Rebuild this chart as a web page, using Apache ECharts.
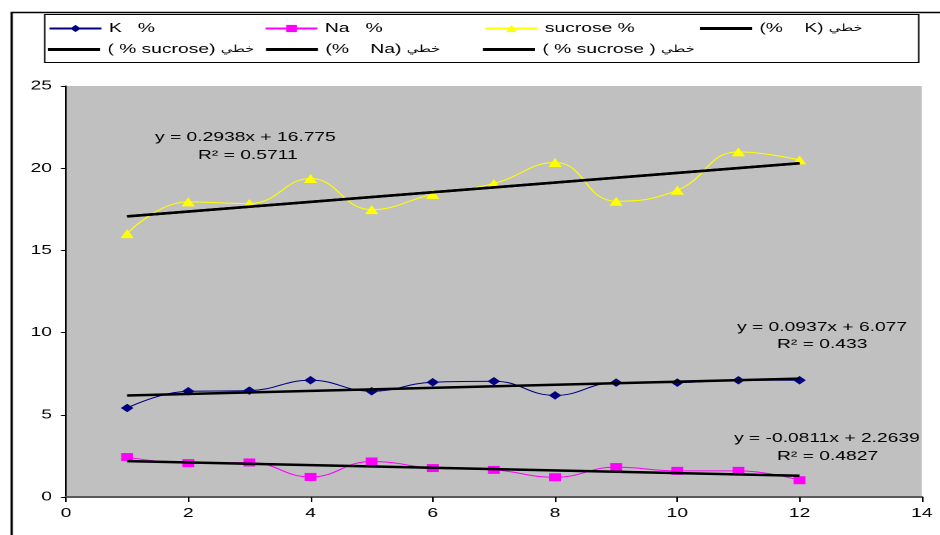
<!DOCTYPE html>
<html>
<head>
<meta charset="utf-8">
<script src="https://cdn.jsdelivr.net/npm/echarts@6/dist/echarts.min.js"></script>
<style>
  html, body { margin: 0; padding: 0; background: #fff; overflow: hidden; }
  #wrap { width: 940px; height: 535px; overflow: hidden; position: relative; }
  /* the chart is laid out narrow and widened horizontally */
  #chart { height: 535px; transform-origin: 0 0; position: absolute; left: 0; top: 0; }
</style>
</head>
<body>
<div id="wrap"><div id="chart"></div></div>
<script>
// Sample index (x) and measured percentages
const samples = [1, 2, 3, 4, 5, 6, 7, 8, 9, 10, 11, 12];
const kValues = [5.41, 6.43, 6.47, 7.10, 6.43, 6.98, 7.04, 6.18, 6.96, 6.96, 7.10, 7.10];
const naValues = [2.43, 2.06, 2.10, 1.22, 2.16, 1.76, 1.65, 1.20, 1.82, 1.59, 1.59, 1.02];
const sucroseValues = [16.02, 17.95, 17.85, 19.37, 17.48, 18.41, 19.07, 20.35, 17.99, 18.66, 20.99, 20.51];

// Series names (also used as legend labels)
const seriesNames = ['K   %', 'Na   %', 'sucrose %'];
const trendNames = ['(%    K) خطي', '( % sucrose) خطي', '(%    Na) خطي', '( % sucrose ) خطي'];

// Linear fit coefficients, as printed on the chart
const kFit = { slope: 0.0937, intercept: 6.077, r2: '0.433' };
const naFit = { slope: -0.0811, intercept: 2.2639, r2: '0.4827' };
const sucroseFit = { slope: 0.2938, intercept: 16.775, r2: '0.5711' };

const xTicks = { min: 0, max: 14, interval: 2 };
const yTicks = { min: 0, max: 25, interval: 5 };

const FONT = '"Liberation Sans", Arial, sans-serif';

// horizontal stretch of the whole drawing
const S = 1.48;
const X = px => px / S;

const el = document.getElementById('chart');
el.style.width = X(940) + 'px';
el.style.transform = 'scaleX(' + S + ')';

function trendData(fit) {
  const x0 = samples[0], x1 = samples[samples.length - 1];
  return [[x0, fit.intercept + fit.slope * x0], [x1, fit.intercept + fit.slope * x1]];
}
function pairs(vals) { return samples.map((x, i) => [x, vals[i]]); }
function eqText(fit) {
  const sign = fit.slope < 0 ? '-' : '';
  return 'y = ' + sign + Math.abs(fit.slope) + 'x + ' + fit.intercept;
}

const chart = echarts.init(el, null, { renderer: 'canvas', devicePixelRatio: 2 });

function dataSeries(name, vals, color, symbol, size) {
  return {
    name, type: 'line', data: pairs(vals), smooth: 0.45,
    symbol, symbolSize: size,
    lineStyle: { color, width: 1 },
    itemStyle: { color },
    z: 3
  };
}
function trendSeries(name, fit) {
  return {
    name, type: 'line', data: trendData(fit), symbol: 'none',
    lineStyle: { color: '#000', width: 2.5 },
    itemStyle: { color: '#000' },
    z: 4, silent: true
  };
}

// Arabic word in the legend labels is set a little smaller than the Latin text
const AR_WORD = 'خطي';
function legendFormatter(name) {
  const i = name.indexOf(AR_WORD);
  if (i < 0) return name;
  return name.slice(0, i) + '{ar|' + AR_WORD + '}' + name.slice(i + AR_WORD.length);
}
const legendText = {
  fontFamily: FONT, fontSize: 13, color: '#000',
  rich: { ar: { fontFamily: '"DejaVu Sans", sans-serif', fontSize: 10, color: '#000' } }
};
function legendAt(name, left, top, isTrend) {
  const l = {
    data: [name], left: X(left), top, itemWidth: X(52), itemHeight: isTrend ? 3 : 9,
    itemGap: 0, textStyle: legendText, padding: 0, selectedMode: false,
    formatter: legendFormatter
  };
  if (isTrend) l.icon = 'rect';
  return l;
}

const eqStyle = { fontFamily: FONT, fontSize: 13, fill: '#000' };
function label(text, left, top) {
  return { type: 'text', left: X(left), top, style: Object.assign({ text }, eqStyle), z: 10 };
}

chart.setOption({
  backgroundColor: '#fff',
  animation: false,
  grid: {
    left: X(66), top: 86, right: X(18), bottom: 38,
    show: true, backgroundColor: '#C0C0C0', borderWidth: 0
  },
  xAxis: {
    type: 'value', min: xTicks.min, max: xTicks.max, interval: xTicks.interval,
    axisLine: { show: true, onZero: false, lineStyle: { color: '#5a5a5a', width: 2 } },
    axisTick: { show: true, length: 5, lineStyle: { color: '#000', width: 1 } },
    axisLabel: { fontFamily: FONT, fontSize: 13, color: '#000', margin: 10 },
    splitLine: { show: false }
  },
  yAxis: {
    type: 'value', min: yTicks.min, max: yTicks.max, interval: yTicks.interval,
    axisLine: { show: true, lineStyle: { color: '#000', width: 1 } },
    axisTick: { show: true, length: X(5), lineStyle: { color: '#000' } },
    axisLabel: { fontFamily: FONT, fontSize: 13, color: '#000', margin: X(14) },
    splitLine: { show: false }
  },
  legend: [
    legendAt(seriesNames[0], 48, 22, false),
    legendAt(seriesNames[1], 264, 22, false),
    legendAt(seriesNames[2], 484, 22, false),
    legendAt(trendNames[0], 700, 22, true),
    legendAt(trendNames[1], 48, 43, true),
    legendAt(trendNames[2], 266, 43, true),
    legendAt(trendNames[3], 483, 43, true)
  ],
  graphic: [
    { type: 'rect', left: X(8), top: 10, z: -10,
      shape: { width: X(960), height: 560 },
      style: { fill: 'none', stroke: '#000', lineWidth: 1.5 } },
    { type: 'rect', left: X(44), top: 14, z: -5,
      shape: { width: X(874), height: 48 },
      style: { fill: '#fff', stroke: '#000', lineWidth: 1 } },
    label(eqText(sucroseFit), 155, 131),
    label('R² = ' + sucroseFit.r2, 198, 149),
    label(eqText(kFit), 737, 321),
    label('R² = ' + kFit.r2, 777, 338),
    label(eqText(naFit), 734, 432),
    label('R² = ' + naFit.r2, 777, 450)
  ],
  series: [
    dataSeries(seriesNames[0], kValues, '#000080', 'diamond', 8.5),
    dataSeries(seriesNames[1], naValues, '#FF00FF', 'rect', 8),
    dataSeries(seriesNames[2], sucroseValues, '#FFFF00', 'triangle', 9),
    trendSeries(trendNames[0], kFit),
    trendSeries(trendNames[1], sucroseFit),
    trendSeries(trendNames[2], naFit),
    trendSeries(trendNames[3], sucroseFit)
  ]
});
</script>
</body>
</html>
